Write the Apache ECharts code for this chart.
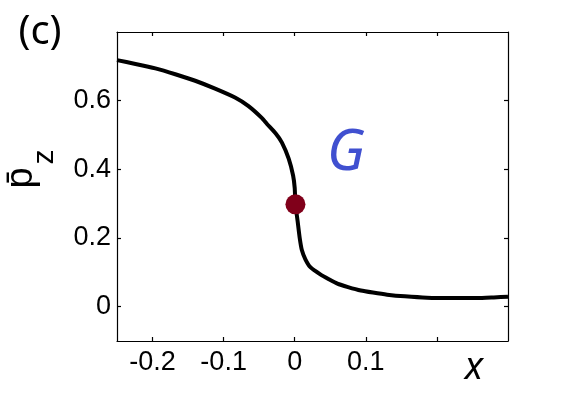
<!DOCTYPE html>
<html><head><meta charset="utf-8">
<script src="https://cdn.jsdelivr.net/npm/echarts@6/dist/echarts.min.js"></script>
<style>html,body{margin:0;padding:0;background:#fff}#c{width:561px;height:420px}</style>
</head><body><div id="c"></div>
<script>
const curveX = [-0.25,-0.224,-0.196,-0.168,-0.140,-0.112,-0.084,-0.065,-0.046,-0.039,-0.027,-0.018,-0.0085,-0.0023,0.000,0.001,0.004,0.007,0.010,0.015,0.022,0.036,0.048,0.060,0.075,0.093,0.110,0.130,0.155,0.186,0.220,0.257,0.280,0.300];
const curveY = [0.718,0.707,0.694,0.677,0.658,0.635,0.609,0.584,0.549,0.532,0.505,0.478,0.431,0.382,0.345,0.298,0.250,0.200,0.165,0.138,0.115,0.094,0.080,0.067,0.057,0.047,0.041,0.035,0.030,0.026,0.025,0.025,0.027,0.029];
const markerX = [0.001];
const markerY = [0.298];
const xTickValues = [-0.2,-0.1,0,0.1,0.2];
const xLabelValues = [-0.2,-0.1,0,0.1];
const yTickValues = [0,0.2,0.4,0.6];
const yLabelValues = [0,0.2,0.4,0.6];

const chart = echarts.init(document.getElementById('c'), null, {renderer:'canvas'});
const lineData = curveX.map((x,i)=>[x,curveY[i]]);
const markData = markerX.map((x,i)=>[x,markerY[i]]);
const axisLineStyle = {show:true, onZero:false, lineStyle:{color:'#000', width:1.2}};
const labelFont = {color:'#000', fontFamily:'Liberation Sans', fontSize:27};
function xAx(pos, labels){
  return {type:'value', position:pos, min:-0.25, max:0.3,
    axisLine:axisLineStyle,
    axisTick:{show:true, inside:true, length:4, customValues:xTickValues, lineStyle:{color:'#000', width:1.2}},
    axisLabel:Object.assign({show:labels, margin:8, customValues:xLabelValues, formatter:v=>String(v)}, labelFont),
    splitLine:{show:false}};
}
function yAx(pos, labels){
  return {type:'value', position:pos, min:-0.1, max:0.8,
    axisLine:axisLineStyle,
    axisTick:{show:true, inside:true, length:4, customValues:yTickValues, lineStyle:{color:'#000', width:1.2}},
    axisLabel:Object.assign({show:labels, margin:6, customValues:yLabelValues, formatter:v=>String(v)}, labelFont),
    splitLine:{show:false}};
}
chart.setOption({
  animation:false,
  backgroundColor:'#fff',
  grid:{left:117, right:53, top:32, bottom:79, containLabel:false},
  xAxis:[xAx('bottom', true), xAx('top', false)],
  yAxis:[yAx('left', true), yAx('right', false)],
  series:[
    {type:'line', data:lineData, showSymbol:false, smooth:0.15, lineStyle:{color:'#000', width:4, join:'round'}, z:2},
    {type:'scatter', data:markData, symbol:'circle', symbolSize:20, itemStyle:{color:'#80001a', opacity:1}, z:3}
  ],
  graphic:[
    {type:'text', x:40, y:33, style:{text:'(c)', font:'40px "Noto Sans"', fill:'#000', textAlign:'center', textVerticalAlign:'middle'}},
    {type:'text', x:22, y:178, rotation:Math.PI/2, style:{text:'p\u0304', font:'38px "Liberation Sans"', fill:'#000', textAlign:'center', textVerticalAlign:'middle'}},
    {type:'text', x:45, y:157, rotation:Math.PI/2, style:{text:'z', font:'30px "Liberation Sans"', fill:'#000', textAlign:'center', textVerticalAlign:'middle'}},
    {type:'text', x:474, y:368, style:{text:'x', font:'italic 38px "Noto Sans"', fill:'#000', textAlign:'center', textVerticalAlign:'middle'}},
    {type:'text', x:346, y:154, style:{text:'G', font:'italic 56px "Noto Sans"', fill:'#4050d0', textAlign:'center', textVerticalAlign:'middle'}}
  ]
});
</script></body></html>
